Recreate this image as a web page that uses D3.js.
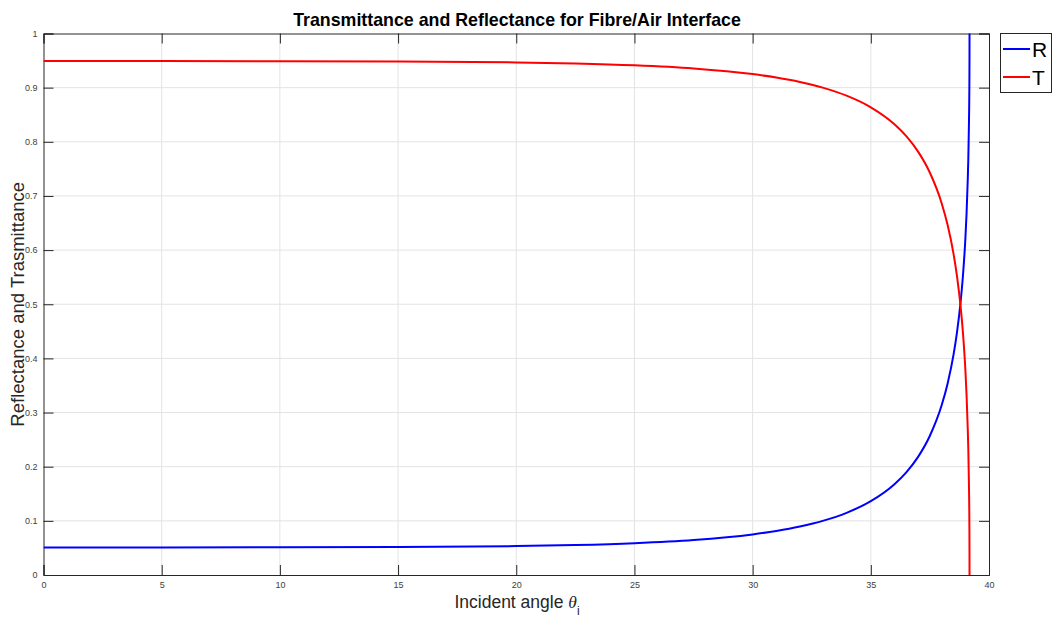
<!DOCTYPE html>
<html>
<head>
<meta charset="utf-8">
<script src="https://cdn.jsdelivr.net/npm/d3@7"></script>
<style>
html,body{margin:0;padding:0;background:#fff;}
svg{display:block;}
</style>
</head>
<body>
<svg id="chart" width="1052" height="621"></svg>
<script>
// Data
const angles = [0, 5, 10, 15, 20, 22.5, 25, 27.5, 30, 31, 32, 33, 34, 35, 36, 36.5, 37, 37.5, 38, 38.25, 38.5, 38.65, 38.8, 38.9, 39.0, 39.05, 39.1, 39.125, 39.15, 39.17, 39.175, 39.176];
const reflectance = [0.0509, 0.0510, 0.0511, 0.0516, 0.0534, 0.0554, 0.0588, 0.0646, 0.0750, 0.0813, 0.0895, 0.1004, 0.1153, 0.1364, 0.1677, 0.1896, 0.2182, 0.2572, 0.3138, 0.3538, 0.4069, 0.4494, 0.5049, 0.5540, 0.6208, 0.6667, 0.7286, 0.7688, 0.8286, 0.9066, 0.9571, 1.0];
const transmittance = [0.9491, 0.9490, 0.9489, 0.9484, 0.9466, 0.9446, 0.9412, 0.9354, 0.9250, 0.9187, 0.9105, 0.8996, 0.8847, 0.8636, 0.8323, 0.8104, 0.7818, 0.7428, 0.6862, 0.6462, 0.5931, 0.5506, 0.4951, 0.4460, 0.3792, 0.3333, 0.2714, 0.2312, 0.1714, 0.0934, 0.0429, 0.0];
const xTicks = [0, 5, 10, 15, 20, 25, 30, 35, 40];
const yTicks = [0, 0.1, 0.2, 0.3, 0.4, 0.5, 0.6, 0.7, 0.8, 0.9, 1];
const seriesNames = ["R", "T"];
const seriesColors = ["#0000ff", "#ff0000"];

const svg = d3.select("#chart");
const L = 43.5, R = 989, T = 33.5, B = 575;
const x = d3.scaleLinear().domain([0, 40]).range([L, R]);
const y = d3.scaleLinear().domain([0, 1]).range([B, T]);
const axisCol = "#262626";
const tickCol = "#404040";
const font = "Liberation Sans, Arial, sans-serif";

// grid
const g = svg.append("g");
g.selectAll(".gx").data(xTicks.slice(1, -1)).enter().append("line")
  .attr("x1", d => x(d)).attr("x2", d => x(d)).attr("y1", T).attr("y2", B)
  .attr("stroke", "#e3e3e3").attr("stroke-width", 1);
g.selectAll(".gy").data(yTicks.slice(1, -1)).enter().append("line")
  .attr("x1", L).attr("x2", R).attr("y1", d => y(d)).attr("y2", d => y(d))
  .attr("stroke", "#e3e3e3").attr("stroke-width", 1);

// axes (MATLAB-style: inward ticks on all four sides)
const xb = svg.append("g").attr("transform", `translate(0,${B})`)
  .call(d3.axisBottom(x).tickValues(xTicks).tickSize(-10).tickPadding(7).tickFormat(d3.format("d")));
const xt = svg.append("g").attr("transform", `translate(0,${T})`)
  .call(d3.axisTop(x).tickValues(xTicks).tickSize(-10).tickFormat(""));
const yl = svg.append("g").attr("transform", `translate(${L},0)`)
  .call(d3.axisLeft(y).tickValues(yTicks).tickSize(-10).tickPadding(6).tickFormat(d => d === 0 || d === 1 ? d3.format("d")(d) : d3.format(".1f")(d)));
const yr = svg.append("g").attr("transform", `translate(${R},0)`)
  .call(d3.axisRight(y).tickValues(yTicks).tickSize(-10).tickFormat(""));
[xb, xt, yl, yr].forEach(a => {
  a.select(".domain").attr("stroke", axisCol).attr("stroke-width", 1);
  a.selectAll(".tick line").attr("stroke", axisCol).attr("stroke-width", 1);
  a.selectAll("text").attr("font-family", font).attr("font-size", 9).attr("fill", tickCol);
});

// lines
svg.append("clipPath").attr("id", "clip").append("rect")
  .attr("x", L).attr("y", T - 1).attr("width", R - L).attr("height", B - T + 2);
const seriesData = [reflectance, transmittance];
const line = d3.line().x(d => x(d[0])).y(d => y(d[1])).curve(d3.curveMonotoneX);
seriesData.forEach((vals, i) => {
  svg.append("path")
    .datum(angles.map((a, j) => [a, vals[j]]))
    .attr("d", line)
    .attr("fill", "none")
    .attr("stroke", seriesColors[i])
    .attr("stroke-width", 2)
    .attr("clip-path", "url(#clip)");
});

// title
svg.append("text").attr("x", 517).attr("y", 25.5).attr("text-anchor", "middle")
  .attr("font-family", font).attr("font-weight", "bold")
  .attr("font-size", 17.8).attr("fill", "#000")
  .text("Transmittance and Reflectance for Fibre/Air Interface");

// x label
const xl = svg.append("text").attr("x", 517).attr("y", 608).attr("text-anchor", "middle")
  .attr("font-family", font).attr("font-size", 17.5).attr("fill", "#262626");
xl.append("tspan").text("Incident angle ");
xl.append("tspan").attr("font-family", "Liberation Serif, Times New Roman, serif").attr("font-style", "italic").text("θ");
xl.append("tspan").attr("font-size", 12).attr("dy", 7).text("i");

// y label
svg.append("text").attr("transform", `translate(24,${(T + B) / 2}) rotate(-90)`).attr("text-anchor", "middle")
  .attr("font-family", font).attr("font-size", 18.5).attr("fill", "#262626")
  .text("Reflectance and Trasmittance");

// legend
const lg = svg.append("g");
lg.append("rect").attr("x", 1000.5).attr("y", 33.5).attr("width", 51).attr("height", 59)
  .attr("fill", "#fff").attr("stroke", axisCol).attr("stroke-width", 1);
seriesNames.forEach((n, i) => {
  const yy = 49 + i * 28;
  lg.append("line").attr("x1", 1003).attr("x2", 1030).attr("y1", yy).attr("y2", yy)
    .attr("stroke", seriesColors[i]).attr("stroke-width", 2);
  lg.append("text").attr("x", 1032).attr("y", yy + 8).attr("font-family", font)
    .attr("font-size", 21).attr("fill", "#000").text(n);
});
</script>
</body>
</html>
